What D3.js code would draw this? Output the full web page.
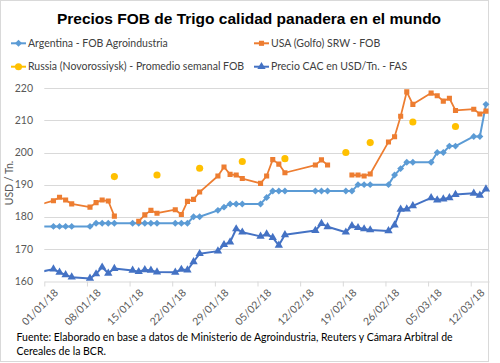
<!DOCTYPE html>
<html>
<head>
<meta charset="utf-8">
<script src="https://cdn.jsdelivr.net/npm/d3@7"></script>
<style>
  body { margin: 0; background: #fff; }
  svg { display: block; }
</style>
</head>
<body>
<div id="chart"></div>
<script>
// --- data ---
const dates = [
  '29/12/17',
  '02/01/18', '03/01/18', '04/01/18', '05/01/18',
  '08/01/18', '09/01/18', '10/01/18', '11/01/18', '12/01/18',
  '15/01/18', '16/01/18', '17/01/18', '18/01/18', '19/01/18',
  '22/01/18', '23/01/18', '24/01/18', '25/01/18', '26/01/18',
  '29/01/18', '30/01/18', '31/01/18', '01/02/18', '02/02/18',
  '05/02/18', '06/02/18', '07/02/18', '08/02/18', '09/02/18',
  '14/02/18', '15/02/18', '16/02/18',
  '19/02/18', '20/02/18', '21/02/18', '22/02/18', '23/02/18',
  '26/02/18', '27/02/18', '28/02/18', '01/03/18', '02/03/18',
  '05/03/18', '06/03/18', '07/03/18', '08/03/18', '09/03/18',
  '12/03/18', '13/03/18', '14/03/18'
]

const argentina = [
  177,
  177, 177, 177, 177,
  177, 178, 178, 178, 178,
  178, 178, 178, 178, 178,
  178, 178, 178, 180, 180,
  182, 183, 184, 184, 184,
  184, 186, 188, 188, 188,
  188, 188, 188,
  188, 188, 190, 190, 190,
  190, 193, 195, 197, 197,
  197, 200, 200, 202, 202,
  205, 205, 215
]

const usa = [
  182.8,
  185, 186.1, 185.2, 184,
  183, 184.4, 185.2, 184.9, 180.2,
  null, 178.6, 180.6, 182, 181.1,
  182.2, 180.7, 184.8, 185.4, 187.7,
  192.7, 195.5, 193.2, 193, 191.9,
  190.4, 192.7, 197.8, 196.4, 193.7,
  196.1, 197.7, 196.1,
  null, 193, 193, 192.7, 193.3,
  203.3, 204.9, 211.3, 218.9, 215,
  218.5, 217.7, 216, 216.9, 213.1,
  213.5, 212, 212.9
]

const russia = [
  null,
  null, null, null, null,
  null, null, null, null, 192.5,
  null, null, null, null, 193,
  null, null, null, null, 195.1,
  null, null, null, null, 197.2,
  null, null, null, null, 198.1,
  null, null, null,
  200, null, null, null, 203.1,
  null, null, null, null, 209.5,
  null, null, null, null, 208.1,
  null, null, null
]

const cac = [
  162.1,
  163.7, 162.7, 161.9, 161.2,
  160.8, 162.2, 164.3, 162.4, 163.9,
  163.3, 162.9, 163.5, 163.3, 162.8,
  162.7, 163.6, 163.4, 166, 168.5,
  169.3, 171.3, 172.1, 176.2, 175.2,
  173.9, 174.6, 173.5, 171.1, 174.4,
  175.7, 177.9, 176.9,
  175.2, 177.2, 176.6, 176.2, 175.9,
  175.6, 177.4, 182.3, 182.4, 183.4,
  185.9, 185.2, 185.5, 185.9, 186.9,
  187.3, 186.7, 188.6
]

const xTicks = ['01/01/18', '08/01/18', '15/01/18', '22/01/18', '29/01/18', '05/02/18',
  '12/02/18', '19/02/18', '26/02/18', '05/03/18', '12/03/18']
const yTicks = [160, 170, 180, 190, 200, 210, 220]

const W = 500, H = 363
const plot = { left: 44.3, right: 489, top: 88.3, bottom: 281 }
const parse = d3.utcParse('%d/%m/%y')
const fmt = d3.utcFormat('%d/%m/%y')
const txtFont = 'Lato, "Open Sans", sans-serif'
const FS = 10.5

const svg = d3.select('#chart').append('svg')
  .attr('width', W).attr('height', H)

// chart border
svg.append('rect')
  .attr('x', 0.5).attr('y', 0.5).attr('width', 488).attr('height', 361)
  .attr('fill', '#fff').attr('stroke', '#d9d9d9')

const x = d3.scaleUtc()
  .domain([parse('01/01/18'), parse('15/03/18')])
  .range([plot.left, plot.right])
const y = d3.scaleLinear().domain([160, 220]).range([plot.bottom, plot.top])

// points sit in the middle of their day slot
const xd = s => x(d3.utcHour.offset(parse(s), 12))

// title
svg.append('text')
  .attr('x', 249).attr('y', 23.5).attr('text-anchor', 'middle')
  .attr('font-family', '"Liberation Sans Narrow", "Arial Narrow", sans-serif')
  .attr('font-weight', 'bold').attr('font-size', 15.5).attr('fill', '#000')
  .text('Precios FOB de Trigo calidad panadera en el mundo')

// gridlines
svg.append('g').selectAll('line').data(yTicks.slice(1)).join('line')
  .attr('x1', plot.left).attr('x2', plot.right)
  .attr('y1', d => Math.round(y(d)) + 0.5).attr('y2', d => Math.round(y(d)) + 0.5)
  .attr('stroke', '#d9d9d9').attr('stroke-width', 1)

// y axis labels
svg.append('g').selectAll('text').data(yTicks).join('text')
  .attr('x', 33).attr('y', d => y(d)).attr('dy', '0.35em')
  .attr('text-anchor', 'end')
  .attr('font-family', txtFont).attr('font-size', FS).attr('fill', '#595959')
  .text(d => d)

svg.append('text')
  .attr('transform', 'translate(9,183) rotate(-90)')
  .attr('text-anchor', 'middle').attr('dy', '0.35em')
  .attr('font-family', txtFont).attr('font-size', FS).attr('fill', '#595959')
  .text('USD / Tn.')

// x axis
const xAxis = svg.append('g')
  .attr('transform', `translate(0,${Math.round(plot.bottom) + 0.5})`)
  .call(d3.axisBottom(x)
    .tickValues(xTicks.map(parse))
    .tickFormat(fmt)
    .tickSize(5)
    .tickSizeOuter(0))
xAxis.select('.domain').attr('stroke', '#d9d9d9')
xAxis.selectAll('.tick line').attr('stroke', '#d9d9d9')
xAxis.selectAll('.tick text')
  .attr('font-family', txtFont).attr('font-size', FS).attr('fill', '#595959')
  .attr('text-anchor', 'end')
  .attr('transform', 'translate(6,4) rotate(-45)')
  .attr('dy', '0.7em').attr('y', 4).attr('x', 0)

// clip so the pre-January point only shows as the line entering the plot
svg.append('defs').append('clipPath').attr('id', 'plot-clip')
  .append('rect')
  .attr('x', plot.left).attr('y', plot.top - 10)
  .attr('width', plot.right - plot.left + 6).attr('height', plot.bottom - plot.top + 20)

const series = [
  { name: 'Argentina - FOB Agroindustria', values: argentina, color: '#5b9bd5',
    symbol: d3.symbolSquare, size: 24, rotate: 45, lineW: 2, line: true },
  { name: 'USA (Golfo) SRW - FOB', values: usa, color: '#ed7d31',
    symbol: d3.symbolSquare, size: 26, rotate: 0, lineW: 1.75, line: true },
  { name: 'Russia (Novorossiysk) - Promedio semanal FOB', values: russia, color: '#ffc000',
    symbol: d3.symbolCircle, size: 40, rotate: 0, lineW: 2, line: false },
  { name: 'Precio CAC en USD/Tn. - FAS', values: cac, color: '#4472c4',
    symbol: d3.symbolTriangle, size: 30, rotate: 0, lineW: 2, line: true }
]

const plotG = svg.append('g').attr('clip-path', 'url(#plot-clip)')
const lineGen = d3.line()
  .defined(d => d.v != null)
  .x(d => xd(d.date))
  .y(d => y(d.v))

series.forEach(s => {
  const pts = dates.map((date, i) => ({ date, v: s.values[i] }))
  const g = plotG.append('g')
  if (s.line) {
    g.append('path').datum(pts)
      .attr('d', lineGen)
      .attr('fill', 'none').attr('stroke', s.color)
      .attr('stroke-width', s.lineW).attr('stroke-linejoin', 'round')
  }
  g.selectAll('path.mk').data(pts.filter(d => d.v != null)).join('path')
    .attr('class', 'mk')
    .attr('d', d3.symbol().type(s.symbol).size(s.size))
    .attr('transform', d => `translate(${xd(d.date)},${y(d.v)}) rotate(${s.rotate})`)
    .attr('fill', s.color)
})

// legend
const legendPos = [[11, 43.3], [254, 43.3], [11, 66.7], [254, 66.7]]
series.forEach((s, i) => {
  const [lx, ly] = legendPos[i]
  const g = svg.append('g').attr('transform', `translate(${lx},${ly})`)
  g.append('line').attr('x1', 0).attr('x2', 15).attr('y1', 0).attr('y2', 0)
    .attr('stroke', s.color).attr('stroke-width', 2)
  g.append('path')
    .attr('d', d3.symbol().type(s.symbol).size(s.size))
    .attr('transform', `translate(7.5,0) rotate(${s.rotate})`)
    .attr('fill', s.color)
  g.append('text').attr('x', 17).attr('dy', '0.35em')
    .attr('font-family', txtFont).attr('font-size', FS).attr('fill', '#404040')
    .text(s.name)
})

// source note
const note = svg.append('text')
  .attr('font-family', txtFont).attr('font-size', FS).attr('fill', '#000')
note.append('tspan').attr('x', 16.5).attr('y', 341)
  .text('Fuente: Elaborado en base a datos de  Ministerio de Agroindustria, Reuters y Cámara Arbitral de')
note.append('tspan').attr('x', 16.5).attr('y', 354.5)
  .text('Cereales de la BCR.')
</script>
</body>
</html>
